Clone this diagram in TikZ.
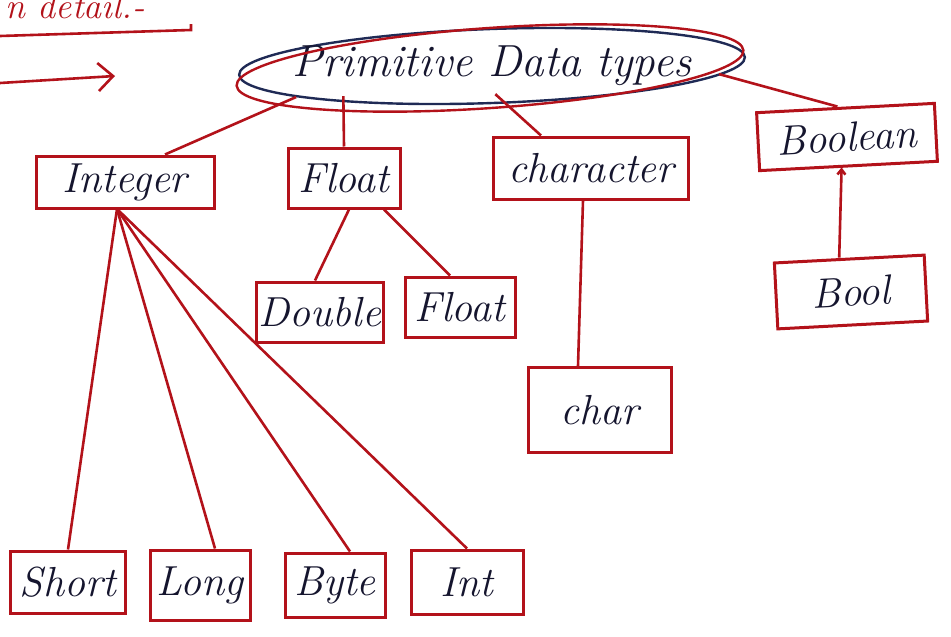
\documentclass[tikz,border=0pt]{standalone}
\usetikzlibrary{shapes.geometric,arrows.meta}
\definecolor{pen}{HTML}{B3121A}
\definecolor{ink}{HTML}{15152E}
\definecolor{navy}{HTML}{1F2A55}
\tikzset{
  box/.style={draw=pen, line width=3pt, inner sep=0pt, text=ink,
    font=\fontsize{42}{46}\selectfont\itshape},
  link/.style={draw=pen, line width=2.6pt},
}
\begin{document}
\begin{tikzpicture}[x=1pt,y=-1pt]
\useasboundingbox[fill=white] (0,0) rectangle (951,637);
% top-left fragment
\node[text=pen, anchor=base west, font=\fontsize{36}{40}\selectfont\itshape] (hdr) at (2,19) {n detail.-};
\coordinate (ul1) at (0,36);
\coordinate (ul2) at (191,30);
\draw[link] (ul1) -- (ul2) -- ++(0,-6);
\coordinate (ar1) at (0,83);
\coordinate (ar2) at (115,76);
\draw[link, -{Straight Barb[length=15pt,width=28pt]}] (ar1) -- (ar2);
% root
\node[ellipse, draw=navy, line width=2.4pt, minimum width=506pt, minimum height=74pt,
      inner xsep=-60pt, inner ysep=-20pt,
      rotate=2, text=ink, font=\fontsize{45}{50}\selectfont\itshape] (prim) at (492,66) {\rotatebox{-2}{Primitive Data types}};
\draw[pen, line width=2.4pt, rotate around={4:(490,68)}] (490,68) ellipse [x radius=254pt, y radius=40pt];
% level 1
\node[box, minimum width=178pt, minimum height=52pt] (integer) at (125,182) {Integer};
\node[box, minimum width=112pt, minimum height=60pt] (floatA) at (344,178) {Float};
\node[box, minimum width=195pt, minimum height=62pt] (character) at (591,168) {character};
\node[box, minimum width=178pt, minimum height=58pt, rotate=3] (boolean) at (847,137) {Boolean};
% level 2
\node[box, minimum width=127pt, minimum height=60pt] (double) at (320,312) {Double};
\node[box, minimum width=110pt, minimum height=60pt] (floatB) at (460,307) {Float};
\node[box, minimum width=143pt, minimum height=85pt] (char) at (600,410) {char};
\node[box, minimum width=150pt, minimum height=66pt, rotate=3] (bool) at (851,292) {Bool};
% level 3
\node[box, minimum width=115pt, minimum height=62pt] (short) at (68,582) {Short};
\node[box, minimum width=100pt, minimum height=70pt] (long) at (200,585) {Long};
\node[box, minimum width=100pt, minimum height=64pt] (byte) at (335,585) {Byte};
\node[box, minimum width=112pt, minimum height=64pt] (int) at (467,582) {Int};
% connectors
\draw[link] (prim.187) -- ([xshift=40pt]integer.north);
\draw[link] ([xshift=-150pt,yshift=8pt]prim.south) -- (floatA.north);
\draw[link] ([xshift=2pt,yshift=10pt]prim.south) -- ([xshift=-50pt]character.north);
\draw[link] ([xshift=-27pt,yshift=-17pt]prim.east) -- ([xshift=-8pt]boolean.north);
\draw[link] ([xshift=5pt]floatA.south) -- ([xshift=-5pt]double.north);
\draw[link] ([xshift=40pt]floatA.south) -- ([xshift=-10pt]floatB.north);
\draw[link] ([xshift=-8pt]character.south) -- ([xshift=-22pt]char.north);
\draw[link, -{Straight Barb[length=5pt,width=8pt]}] ([xshift=-10pt]bool.north) -- ([xshift=-7pt]boolean.south);
\coordinate (fan) at (117,209);
\draw[link] (fan) -- (short.north);
\draw[link] (fan) -- ([xshift=15pt]long.north);
\draw[link] (fan) -- ([xshift=15pt]byte.north);
\draw[link] (fan) -- (int.north);
\end{tikzpicture}
\end{document}
